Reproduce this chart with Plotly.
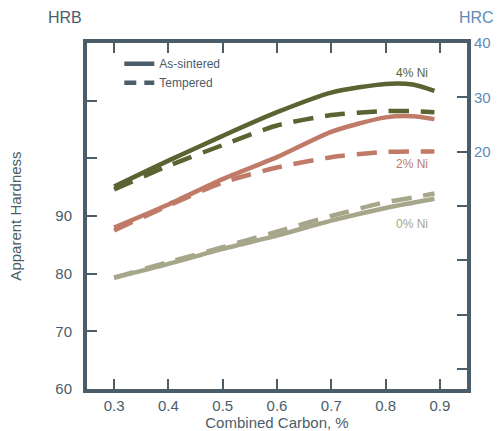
import plotly.graph_objects as go

carbon = [0.3, 0.4, 0.5, 0.6, 0.7, 0.8, 0.85, 0.89]
ni4_sintered = [95.1, 99.6, 103.9, 108.0, 111.4, 112.9, 112.8, 111.7]
ni4_tempered = [94.6, 98.7, 102.3, 105.7, 107.5, 108.2, 108.2, 108.0]
ni2_sintered = [88.0, 92.0, 96.4, 100.2, 104.6, 107.1, 107.3, 106.8]
ni2_tempered = [87.5, 91.8, 95.8, 98.4, 100.2, 101.1, 101.2, 101.2]
ni0_sintered = [79.3, 81.7, 84.3, 86.6, 89.2, 91.4, 92.3, 93.0]
ni0_tempered = [79.3, 82.0, 84.6, 87.3, 90.0, 92.4, 93.2, 93.9]

x_ticks = [0.3, 0.4, 0.5, 0.6, 0.7, 0.8, 0.9]
x_ticktext = ["0.3", "0.4", "0.5", "0.6", "0.7", "0.8", "0.9"]
hrb_ticks = [60, 70, 80, 90, 100, 110]
hrb_ticktext = ["60", "70", "80", "90", "", ""]
hrc_ticks = [-20, -10, 0, 10, 20, 30, 40]
hrc_ticktext = ["", "", "", "", "20", "30", "40"]

labels = ["4% Ni", "2% Ni", "0% Ni"]
label_x = [0.849, 0.849, 0.849]
label_y = [114.8, 99.1, 88.7]

GREEN = "#5a6331"
SALMON = "#c07b68"
KHAKI = "#a6a68a"
SLATE = "#4b5d68"
BLUE = "#5f8bb6"
FONT = "Liberation Sans"
DASH = "20px,12px"
W = 4.5

fig = go.Figure()

series = [
    (ni4_sintered, GREEN, "solid"),
    (ni4_tempered, GREEN, DASH),
    (ni2_sintered, SALMON, "solid"),
    (ni2_tempered, SALMON, DASH),
    (ni0_sintered, KHAKI, "solid"),
    (ni0_tempered, KHAKI, DASH),
]
for ys, col, dash in series:
    fig.add_trace(go.Scatter(x=carbon, y=ys, mode="lines",
                             line=dict(color=col, width=W, dash=dash, shape="spline", smoothing=0.7),
                             showlegend=False, hoverinfo="skip"))

# legend entries
fig.add_trace(go.Scatter(x=[None], y=[None], mode="lines", name="As-sintered",
                         line=dict(color=SLATE, width=W)))
fig.add_trace(go.Scatter(x=[None], y=[None], mode="lines", name="Tempered",
                         line=dict(color=SLATE, width=W, dash="12px,8px")))
# empty trace so the HRC axis is drawn
fig.add_trace(go.Scatter(x=[None], y=[None], yaxis="y2", mode="lines",
                         showlegend=False, hoverinfo="skip"))

for t, lx, ly, col in zip(labels, label_x, label_y, [GREEN, SALMON, KHAKI]):
    fig.add_annotation(x=lx, y=ly, text=t, showarrow=False,
                       font=dict(family=FONT, size=12, color=col))

fig.add_annotation(xref="paper", yref="paper", x=-0.058, y=1.075, text="HRB",
                   xanchor="center", yanchor="middle",
                   showarrow=False, font=dict(family=FONT, size=16, color=SLATE))
fig.add_annotation(xref="paper", yref="paper", x=1.077, y=1.075, text="HRC",
                   xanchor="right", yanchor="middle",
                   showarrow=False, font=dict(family=FONT, size=16, color=BLUE))

fig.update_layout(
    width=499, height=431,
    margin=dict(l=87, r=32, t=43, b=42),
    paper_bgcolor="white", plot_bgcolor="white",
    font=dict(family=FONT, color=SLATE),
    legend=dict(x=0.085, y=0.982, xanchor="left", yanchor="top",
                bgcolor="rgba(0,0,0,0)", font=dict(family=FONT, size=12, color=SLATE),
                tracegroupgap=0, itemwidth=30),
    xaxis=dict(range=[0.25, 0.95], tickvals=x_ticks, ticktext=x_ticktext,
               ticks="inside", ticklen=10, tickwidth=1.5, tickcolor=SLATE,
               showline=True, linewidth=4, linecolor=SLATE, mirror="ticks",
               showgrid=False, zeroline=False, automargin=False,
               tickfont=dict(family=FONT, size=15, color=SLATE),
               title=dict(text="Combined Carbon, %", font=dict(family=FONT, size=15, color=SLATE), standoff=6)),
    yaxis=dict(range=[60, 120], tickvals=hrb_ticks, ticktext=hrb_ticktext,
               ticks="inside", ticklen=10, tickwidth=1.5, tickcolor=SLATE,
               showline=True, linewidth=4, linecolor=SLATE, mirror=True,
               showgrid=False, zeroline=False, ticklabelstandoff=8, automargin=False,
               tickfont=dict(family=FONT, size=15, color=SLATE),
               title=dict(text="Apparent Hardness", font=dict(family=FONT, size=15, color=SLATE), standoff=31)),
    yaxis2=dict(range=[-23.7, 40], overlaying="y", side="right", anchor="x",
                tickvals=hrc_ticks, ticktext=hrc_ticktext,
                ticks="inside", ticklen=10, tickwidth=1.5, tickcolor=SLATE,
                showline=False, showgrid=False, zeroline=False, ticklabelstandoff=6,
                automargin=False,
                tickfont=dict(family=FONT, size=15, color=BLUE)),
)

fig.write_html("out.html", config={"displayModeBar": False},
               post_script="document.body.style.margin='0';document.body.style.overflow='hidden';")
